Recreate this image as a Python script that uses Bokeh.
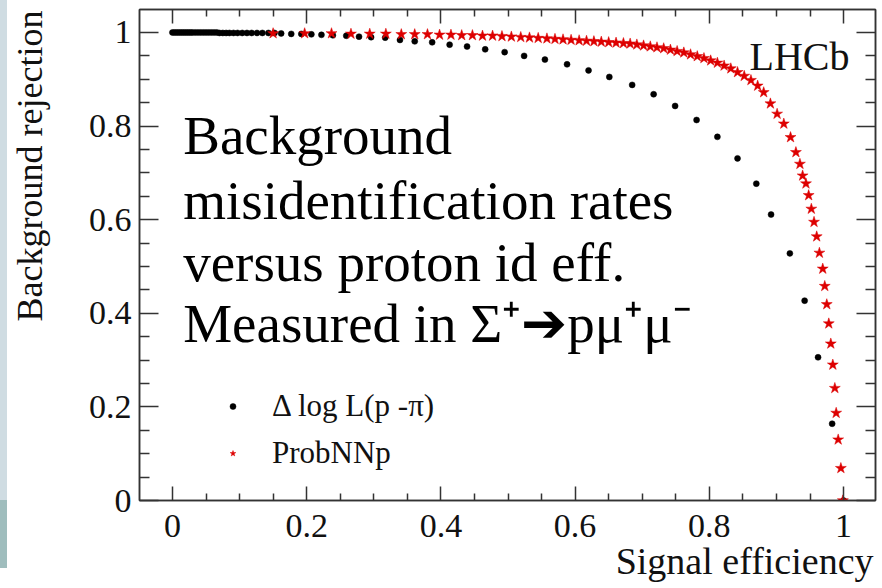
from bokeh.plotting import figure
from bokeh.models import (FixedTicker, PrintfTickFormatter, LinearAxis, Label,
                          Legend, LegendItem, Range1d, CustomJSTickFormatter, Title)
from bokeh.embed import file_html
from bokeh.resources import INLINE

# ---------------- data ----------------
dll_eff = [0.000, 0.003, 0.006, 0.009, 0.012, 0.015, 0.018, 0.021, 0.024, 0.027,
           0.030, 0.034, 0.038, 0.042, 0.046, 0.050, 0.054, 0.058, 0.062, 0.066,
           0.070, 0.075, 0.080, 0.085, 0.091, 0.097, 0.104, 0.111, 0.118, 0.126,
           0.134, 0.143, 0.152, 0.162, 0.177, 0.192, 0.207, 0.222, 0.239, 0.259,
           0.278, 0.296, 0.317, 0.339, 0.361, 0.387, 0.413, 0.439, 0.466, 0.495,
           0.524, 0.555, 0.588, 0.620, 0.651, 0.685, 0.717, 0.749, 0.781, 0.812,
           0.842, 0.870, 0.892, 0.920, 0.942, 0.962, 0.983, 1.000]
dll_rej = [1.000, 1.000, 1.000, 1.000, 1.000, 1.000, 1.000, 1.000, 1.000, 1.000,
           1.000, 1.000, 1.000, 1.000, 1.000, 1.000, 1.000, 1.000, 1.000, 1.000,
           0.999, 0.999, 0.999, 0.999, 0.999, 0.999, 0.999, 0.999, 0.999, 0.999,
           0.999, 0.999, 0.999, 0.998, 0.997, 0.997, 0.996, 0.995, 0.994, 0.993,
           0.991, 0.990, 0.989, 0.984, 0.981, 0.979, 0.974, 0.970, 0.964, 0.958,
           0.950, 0.942, 0.932, 0.919, 0.905, 0.888, 0.868, 0.843, 0.813, 0.777,
           0.731, 0.677, 0.611, 0.528, 0.427, 0.306, 0.164, 0.000]

nn_eff = [0.150, 0.197, 0.237, 0.266, 0.294, 0.318, 0.341, 0.361, 0.380,
          0.398, 0.415, 0.431, 0.447, 0.462, 0.477, 0.491, 0.505, 0.519, 0.532,
          0.545, 0.558, 0.570, 0.582, 0.594, 0.606, 0.617, 0.628, 0.639, 0.650,
          0.661, 0.672, 0.682, 0.692, 0.702, 0.712, 0.722, 0.732, 0.742, 0.752,
          0.762, 0.772, 0.782, 0.792, 0.802, 0.812, 0.822, 0.832, 0.842, 0.852,
          0.862, 0.872, 0.881, 0.891, 0.901, 0.911, 0.921, 0.929, 0.935, 0.939,
          0.944, 0.948, 0.952, 0.956, 0.960, 0.964, 0.969, 0.972, 0.975, 0.978,
          0.981, 0.984, 0.987, 0.989, 0.992, 0.996, 0.999]
nn_rej = [0.998, 0.998, 0.998, 0.997, 0.997, 0.997, 0.996, 0.996, 0.996,
          0.995, 0.995, 0.994, 0.994, 0.993, 0.993, 0.992, 0.991, 0.990, 0.989,
          0.988, 0.987, 0.986, 0.985, 0.984, 0.983, 0.982, 0.981, 0.980, 0.979,
          0.978, 0.977, 0.976, 0.974, 0.972, 0.970, 0.968, 0.966, 0.963, 0.960,
          0.957, 0.953, 0.949, 0.945, 0.940, 0.935, 0.929, 0.923, 0.915, 0.907,
          0.898, 0.886, 0.872, 0.848, 0.826, 0.805, 0.776, 0.744, 0.719, 0.694,
          0.677, 0.652, 0.623, 0.595, 0.564, 0.529, 0.495, 0.458, 0.419, 0.378,
          0.335, 0.290, 0.240, 0.187, 0.130, 0.069, 0.000]

series_labels = ["\u0394 log L(p -\u03c0)", "ProbNNp"]
major_ticks = [0.0, 0.2, 0.4, 0.6, 0.8, 1.0]
minor_ticks = [-0.05, 0.05, 0.1, 0.15, 0.25, 0.3, 0.35, 0.45, 0.5, 0.55,
               0.65, 0.7, 0.75, 0.85, 0.9, 0.95, 1.05]
x_title = "Signal efficiency"
y_title = "Background rejection"
note_lines = ["Background", "misidentification rates", "versus proton id eff.",
              "Measured in \u03a3\u207a\u2794p\u03bc\u207a\u03bc\u207b"]
experiment = "LHCb"

SERIF = "Liberation Serif"
AX = "#333333"
SHIFT = 26  # the figure is pulled 26px to the left so the y title can sit far out

p = figure(width=882 + SHIFT, height=588, output_backend="svg", toolbar_location=None,
           x_range=Range1d(-0.0491, 1.0476), y_range=Range1d(0, 1.0491),
           min_border_left=138 + SHIFT, min_border_right=7, min_border_top=9,
           min_border_bottom=88)
p.grid.visible = False
p.outline_line_color = AX
p.outline_line_width = 1.5
p.background_fill_color = "white"
p.border_fill_color = None
p.styles = {
    "margin-left": f"-{SHIFT}px",
    "background": f"linear-gradient(#cfdce2, #cfdce2) {SHIFT}px 0px / 7px 500px no-repeat, "
                  f"linear-gradient(#9fbdbd, #9fbdbd) {SHIFT}px 500px / 7px 68px no-repeat, "
                  "#ffffff",
}


def style_axis(ax, tick_major, tick_minor, labels=True):
    ax.ticker = FixedTicker(ticks=major_ticks, minor_ticks=minor_ticks)
    ax.axis_line_color = AX
    ax.axis_line_width = 1.5
    ax.major_tick_line_color = AX
    ax.minor_tick_line_color = AX
    ax.major_tick_line_width = 1.5
    ax.minor_tick_line_width = 1.5
    ax.major_tick_in = tick_major
    ax.major_tick_out = 0
    ax.minor_tick_in = tick_minor
    ax.minor_tick_out = 0
    if labels:
        ax.formatter = PrintfTickFormatter(format="%g")
        ax.major_label_text_font = SERIF
        ax.major_label_text_font_size = "34px"
        ax.major_label_text_color = "#111111"
    else:
        ax.formatter = CustomJSTickFormatter(code="return ''")
        ax.major_label_text_font_size = "0px"
        ax.major_label_standoff = 0


style_axis(p.xaxis[0], 14, 7)
p.xaxis[0].major_label_standoff = 14
style_axis(p.yaxis[0], 19, 10)
p.yaxis[0].major_label_standoff = 8

top_ax = LinearAxis()
style_axis(top_ax, 14, 7, labels=False)
p.add_layout(top_ax, "above")
right_ax = LinearAxis()
style_axis(right_ax, 19, 10, labels=False)
p.add_layout(right_ax, "right")

# axis titles (ROOT style: aligned to the end of the axis)
p.add_layout(Title(text=y_title, align="right", vertical_align="middle", offset=1,
                   standoff=69, text_font=SERIF, text_font_size="36px",
                   text_font_style="normal", text_color="#111111"), "left")
p.add_layout(Title(text=x_title, align="right", vertical_align="top", offset=2,
                   standoff=0, text_font=SERIF, text_font_size="38px",
                   text_font_style="normal", text_color="#111111"), "below")

r_dll = p.scatter(dll_eff, dll_rej, marker="circle", size=6,
                  fill_color="black", line_color="black", line_width=0.5)
r_nn = p.scatter(nn_eff, nn_rej, marker="star", size=11.5,
                 fill_color="#dd0000", line_color="#dd0000", line_width=0.5)

legend = Legend(items=[LegendItem(label=series_labels[0], renderers=[r_dll]),
                       LegendItem(label=series_labels[1], renderers=[r_nn])],
                location=(86, 27), glyph_width=15, glyph_height=40,
                label_standoff=32, spacing=7, padding=0, margin=0,
                border_line_alpha=0, background_fill_alpha=0,
                label_text_font=SERIF, label_text_font_size="31px",
                label_text_color="#111111")
p.add_layout(legend)

# experiment tag
p.add_layout(Label(x=710, y=444, x_units="screen", y_units="screen",
                   text=experiment, text_align="right", text_baseline="middle",
                   text_font=SERIF, text_font_size="40px", text_color="#111111"))
# slide annotation
for txt, yb in zip(note_lines, [345, 280, 218, 157]):
    p.add_layout(Label(x=43.7, y=yb + 20.5, x_units="screen", y_units="screen",
                       text=txt, text_align="left", text_baseline="middle",
                       text_font=SERIF, text_font_size="55px",
                       text_color="#000000"))

open("out.html", "w").write(file_html(p, INLINE))
